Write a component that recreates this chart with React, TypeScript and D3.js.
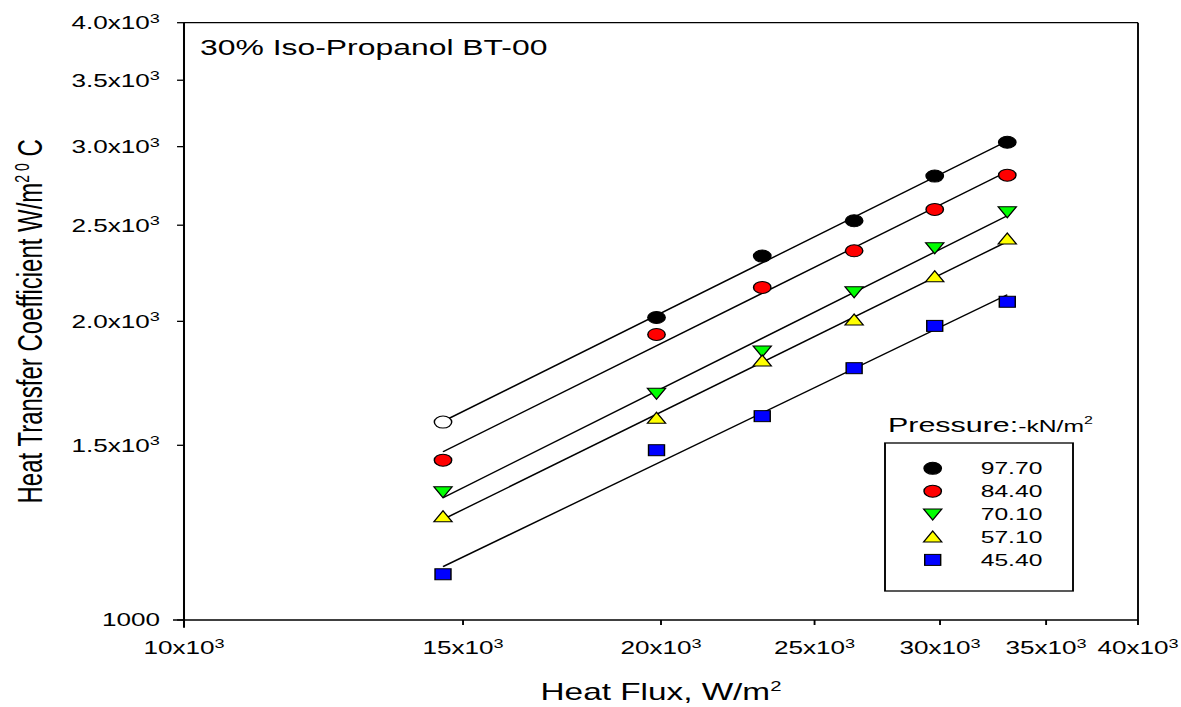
import React from 'react';
import * as d3 from 'd3';

// Heat flux (W/m²) at which each run was measured
const heatFlux = [14570, 19870, 23170, 26480, 29770, 33080];

// Legend labels, pressure in kN/m²
const pressureLabels = ['97.70', '84.40', '70.10', '57.10', '45.40'];

// Heat transfer coefficient (W/m² °C) per pressure
const h97 = [1583, 2018, 2327, 2526, 2802, 3031];
const h84 = [1449, 1940, 2164, 2356, 2593, 2808];
const h70 = [1347, 1693, 1867, 2142, 2372, 2579];
const h57 = [1271, 1597, 1824, 2006, 2218, 2421];
const h45 = [1112, 1483, 1605, 1794, 1979, 2093];

// Indices drawn as hollow markers in the 97.70 series
const hollow97 = [0];

const xTicks = [10000, 15000, 20000, 25000, 30000, 35000, 40000];
const yTicks = [1000, 1500, 2000, 2500, 3000, 3500, 4000];

const W = 1181;
const H = 707;
const S = 1.45; // horizontal stretch of the whole figure
const FONT = "'Liberation Sans', Arial, Helvetica, sans-serif";

type Shape = 'circle' | 'down' | 'up' | 'square';

const series: { label: string; values: number[]; shape: Shape; fill: string; hollow: number[] }[] = [
  { label: pressureLabels[0], values: h97, shape: 'circle', fill: '#000000', hollow: hollow97 },
  { label: pressureLabels[1], values: h84, shape: 'circle', fill: '#ff0000', hollow: [] },
  { label: pressureLabels[2], values: h70, shape: 'down', fill: '#00ff00', hollow: [] },
  { label: pressureLabels[3], values: h57, shape: 'up', fill: '#ffff00', hollow: [] },
  { label: pressureLabels[4], values: h45, shape: 'square', fill: '#0000ff', hollow: [] },
];

function Marker({ shape, cx, cy, fill }: { shape: Shape; cx: number; cy: number; fill: string }) {
  const common = { fill, stroke: '#000', strokeWidth: 1 };
  if (shape === 'circle') return <circle cx={cx} cy={cy} r={6} {...common} />;
  if (shape === 'down')
    return <path d={`M${cx - 6.3},${cy - 5} L${cx + 6.3},${cy - 5} L${cx},${cy + 6} Z`} {...common} />;
  if (shape === 'up')
    return <path d={`M${cx - 6.3},${cy + 5} L${cx + 6.3},${cy + 5} L${cx},${cy - 6} Z`} {...common} />;
  return <rect x={cx - 5.5} y={cy - 5.5} width={11} height={11} {...common} />;
}

// least-squares line in log-log space
function fitLogLog(xs: number[], ys: number[]) {
  const lx = xs.map(Math.log);
  const ly = ys.map(Math.log);
  const mx = d3.mean(lx)!;
  const my = d3.mean(ly)!;
  const num = d3.sum(lx, (v, i) => (v - mx) * (ly[i] - my));
  const den = d3.sum(lx, (v) => (v - mx) * (v - mx));
  const b = num / den;
  const a = my - b * mx;
  return (v: number) => Math.exp(a + b * Math.log(v));
}

export default function App() {
  const x = d3.scaleLog().domain([10000, 40000]).range([184 / S, 1138 / S]);
  const y = d3.scaleLog().domain([1000, 4000]).range([620, 22.7]);
  const [xl, xr] = x.range();
  const yb = y(1000);
  const yt = y(4000);

  const line = d3
    .line<number[]>()
    .x((d) => x(d[0]))
    .y((d) => y(d[1]));

  const yLabel = (v: number) =>
    v === 1000 ? (
      <>1000</>
    ) : (
      <>
        {(v / 1000).toFixed(1)}x10
        <tspan fontSize={12.5} dy={-6.5}>3</tspan>
      </>
    );
  const xLabel = (v: number) => (
    <>
      {(v / 1000).toFixed(0)}x10
      <tspan fontSize={12.5} dy={-6.5}>3</tspan>
    </>
  );

  const legendX = 885 / S;
  const legendTop = 443;
  const legendRight = 1073 / S;
  const legendBottom = 591;
  const rowY0 = 468.3;
  const rowStep = 22.9;

  return (
    <svg
      width={W}
      height={H}
      style={{ position: 'absolute', left: 0, top: 0, background: '#fff' }}
      fontFamily={FONT}
    >
      <rect width={W} height={H} fill="#fff" />
      <g transform={`scale(${S},1)`}>
        {/* frame */}
        <line x1={xl} y1={yt} x2={xr} y2={yt} stroke="#000" strokeWidth={1.3} />
        <line x1={xr} y1={yt} x2={xr} y2={yb} stroke="#000" strokeWidth={1.3} />
        <line x1={173 / S} y1={yb} x2={xr} y2={yb} stroke="#000" strokeWidth={1.4} />
        <line x1={xl} y1={yt} x2={xl} y2={yb + 7.7} stroke="#000" strokeWidth={1.4} />

        {/* y ticks */}
        {yTicks.map((v) => (
          <g key={'y' + v}>
            <line x1={xl - 4.8} x2={xl} y1={y(v)} y2={y(v)} stroke="#000" strokeWidth={1.3} />
            <text x={110.3} y={y(v) + 6.5} fontSize={18} textAnchor="end" fill="#000">
              {yLabel(v)}
            </text>
          </g>
        ))}

        {/* x ticks */}
        {xTicks.map((v) => (
          <g key={'x' + v}>
            <line x1={x(v)} x2={x(v)} y1={yb} y2={yb + 5} stroke="#000" strokeWidth={1.3} />
            <text x={x(v)} y={654.3} fontSize={18} textAnchor="middle" fill="#000">
              {xLabel(v)}
            </text>
          </g>
        ))}

        {/* axis titles */}
        <text x={(xl + xr) / 2} y={700} fontSize={23} textAnchor="middle" fill="#000">
          Heat Flux, W/m
          <tspan fontSize={14} dy={-9}>2</tspan>
        </text>
        <text
          transform={`translate(${42 / S},${(yt + yb) / 2}) rotate(-90)`}
          fontSize={24}
          textAnchor="middle"
          fill="#000"
        >
          Heat Transfer Coefficient W/m
          <tspan fontSize={14} dy={-9}>2</tspan>
          <tspan fontSize={14}> 0</tspan>
          <tspan fontSize={24} dy={9}> C</tspan>
        </text>

        {/* panel title */}
        <text x={200 / S} y={55} fontSize={22} fill="#000">
          30% Iso-Propanol BT-00
        </text>

        {/* fitted lines */}
        {series.map((s) => {
          const f = fitLogLog(heatFlux, s.values);
          const xa = heatFlux[0];
          const xb = heatFlux[heatFlux.length - 1];
          return (
            <path
              key={'l' + s.label}
              d={line([[xa, f(xa)], [xb, f(xb)]])!}
              fill="none"
              stroke="#000"
              strokeWidth={1.3}
            />
          );
        })}

        {/* data markers */}
        {series.map((s) =>
          s.values.map((v, i) => (
            <Marker
              key={s.label + i}
              shape={s.shape}
              cx={x(heatFlux[i])}
              cy={y(v)}
              fill={s.hollow.includes(i) ? '#fff' : s.fill}
            />
          ))
        )}

        {/* legend */}
        <text x={888 / S} y={431.7} fill="#000">
          <tspan fontSize={21}>Pressure:</tspan>
          <tspan fontSize={17}>-kN/m</tspan>
          <tspan fontSize={11} dy={-8}>2</tspan>
        </text>
        <rect
          x={legendX}
          y={legendTop}
          width={legendRight - legendX}
          height={legendBottom - legendTop}
          fill="none"
          stroke="#000"
          strokeWidth={1.3}
        />
        {series.map((s, i) => (
          <g key={'lg' + s.label}>
            <Marker shape={s.shape} cx={932.7 / S} cy={rowY0 + i * rowStep} fill={s.fill} />
            <text x={980.7 / S} y={rowY0 + i * rowStep + 6.2} fontSize={17} fill="#000">
              {s.label}
            </text>
          </g>
        ))}
      </g>
    </svg>
  );
}
